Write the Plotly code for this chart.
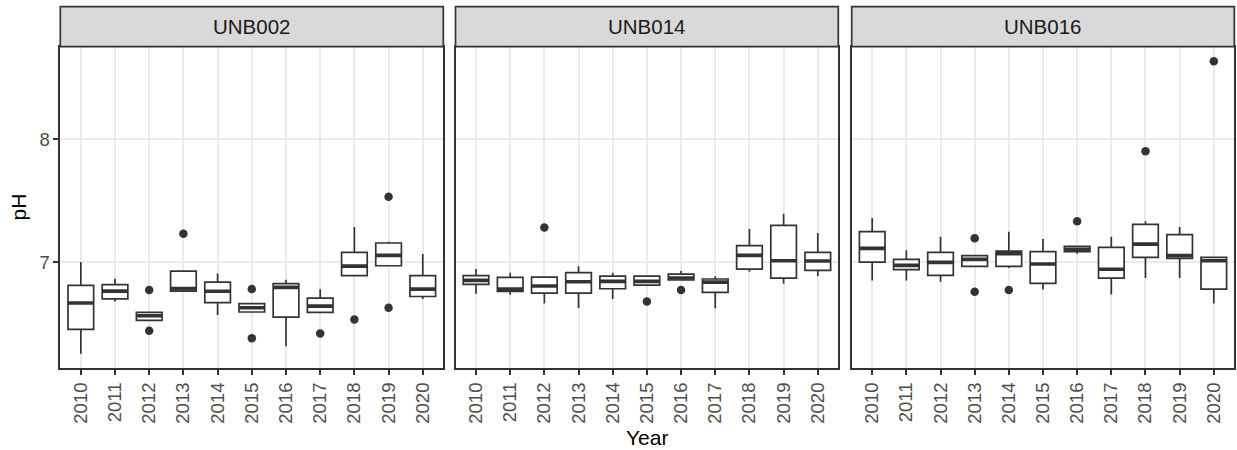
import plotly.graph_objects as go

W, H = 1237, 450
years = [str(y) for y in range(2010, 2021)]
sites = ["UNB002", "UNB014", "UNB016"]

# --- box statistics (pH) ---
unb002_lower = [6.255, 6.68, 6.526, 6.764, 6.569, 6.594, 6.315, 6.591, 6.889, 6.97, 6.70]
unb002_q1 = [6.453, 6.70, 6.526, 6.764, 6.67, 6.594, 6.553, 6.591, 6.889, 6.97, 6.72]
unb002_med = [6.667, 6.764, 6.564, 6.784, 6.762, 6.629, 6.794, 6.642, 6.967, 7.054, 6.78]
unb002_q3 = [6.81, 6.816, 6.591, 6.927, 6.837, 6.662, 6.824, 6.707, 7.079, 7.155, 6.889]
unb002_upper = [7.0, 6.865, 6.591, 6.927, 6.906, 6.662, 6.857, 6.778, 7.285, 7.166, 7.065]
unb002_out_year = ["2012", "2012", "2013", "2015", "2015", "2017", "2018", "2019", "2019"]
unb002_out_val = [6.772, 6.442, 7.231, 6.78, 6.38, 6.42, 6.532, 7.53, 6.629]

unb014_lower = [6.743, 6.735, 6.664, 6.626, 6.70, 6.813, 6.854, 6.624, 6.922, 6.824, 6.884]
unb014_q1 = [6.818, 6.762, 6.748, 6.748, 6.783, 6.813, 6.854, 6.754, 6.943, 6.87, 6.932]
unb014_med = [6.851, 6.78, 6.805, 6.84, 6.843, 6.843, 6.87, 6.837, 7.054, 7.011, 7.008]
unb014_q3 = [6.889, 6.876, 6.878, 6.914, 6.886, 6.886, 6.902, 6.862, 7.133, 7.298, 7.079]
unb014_upper = [6.943, 6.914, 6.884, 6.965, 6.914, 6.893, 6.927, 6.884, 7.268, 7.393, 7.236]
unb014_out_year = ["2012", "2015", "2016"]
unb014_out_val = [7.28, 6.68, 6.772]

unb016_lower = [6.851, 6.851, 6.84, 6.965, 6.951, 6.776, 7.068, 6.737, 6.87, 6.87, 6.662]
unb016_q1 = [7.0, 6.938, 6.892, 6.965, 6.965, 6.827, 7.085, 6.87, 7.038, 7.03, 6.78]
unb016_med = [7.111, 6.973, 6.997, 7.022, 7.068, 6.984, 7.103, 6.941, 7.146, 7.052, 7.011]
unb016_q3 = [7.247, 7.022, 7.079, 7.052, 7.089, 7.085, 7.128, 7.12, 7.307, 7.223, 7.038]
unb016_upper = [7.358, 7.095, 7.206, 7.052, 7.247, 7.187, 7.13, 7.206, 7.331, 7.285, 7.038]
unb016_out_year = ["2013", "2013", "2014", "2016", "2018", "2020"]
unb016_out_val = [7.193, 6.759, 6.772, 7.331, 7.9, 8.632]

y_ticks = [7, 8]

panels = [
    (unb002_lower, unb002_q1, unb002_med, unb002_q3, unb002_upper, unb002_out_year, unb002_out_val),
    (unb014_lower, unb014_q1, unb014_med, unb014_q3, unb014_upper, unb014_out_year, unb014_out_val),
    (unb016_lower, unb016_q1, unb016_med, unb016_q3, unb016_upper, unb016_out_year, unb016_out_val),
]

# --- layout geometry (pixels) ---
panel_x = [(60.3, 443.3), (455.5, 838.3), (851.7, 1234.3)]
plot_top, plot_bottom = 46.7, 368.3
strip_top = 6.7
DARK = "#333333"
BOX_W = 0.75
FONT = "Liberation Sans, Arial, sans-serif"

def px_x(p):
    return p / W

def px_y(p):
    return 1 - p / H

fig = go.Figure()
idx = list(range(len(years)))
all_vals = []
for k, (lo, q1, med, q3, up, oy, ov) in enumerate(panels):
    xa = "x" if k == 0 else f"x{k+1}"
    ya = "y" if k == 0 else f"y{k+1}"
    fig.add_trace(go.Box(
        x=idx, q1=q1, median=med, q3=q3, lowerfence=lo, upperfence=up,
        width=BOX_W, whiskerwidth=0, fillcolor="white",
        line=dict(color=DARK, width=1.7), boxpoints=False,
        xaxis=xa, yaxis=ya, showlegend=False, hoverinfo="skip"))
    # thicker median lines (ggplot fatten)
    mx, my = [], []
    for i, m in zip(idx, med):
        mx += [i - BOX_W / 2, i + BOX_W / 2, None]
        my += [m, m, None]
    fig.add_trace(go.Scatter(x=mx, y=my, mode="lines",
                             line=dict(color=DARK, width=3.6),
                             xaxis=xa, yaxis=ya, showlegend=False, hoverinfo="skip"))
    fig.add_trace(go.Scatter(x=[years.index(y) for y in oy], y=ov, mode="markers",
                             marker=dict(color=DARK, size=8.5),
                             xaxis=xa, yaxis=ya, showlegend=False, hoverinfo="skip"))
    all_vals += lo + up + ov

vmin, vmax = min(all_vals), max(all_vals)
pad = (vmax - vmin) * 0.05
y_range = [vmin - pad, vmax + pad]

tickfont = dict(family=FONT, size=18.5, color="#4D4D4D")
layout = dict(
    width=W, height=H,
    margin=dict(l=0, r=0, t=0, b=0),
    paper_bgcolor="white", plot_bgcolor="white",
    font=dict(family=FONT),
    showlegend=False,
)
shapes, annotations = [], []
for k in range(3):
    xs = "" if k == 0 else str(k + 1)
    x0, x1 = panel_x[k]
    layout[f"xaxis{xs}"] = dict(
        domain=[px_x(x0), px_x(x1)], range=[-0.6, len(years) - 0.4],
        tickvals=idx, ticktext=years, tickangle=-90, tickfont=tickfont,
        ticks="outside", ticklen=5, tickwidth=1.7, tickcolor=DARK,
        showgrid=True, gridcolor="#EBEBEB", gridwidth=1.7,
        showline=True, mirror=True, linecolor=DARK, linewidth=1.7,
        zeroline=False, anchor="y" + xs, fixedrange=True)
    layout[f"yaxis{xs}"] = dict(
        domain=[px_y(plot_bottom), px_y(plot_top)], range=y_range,
        tickvals=y_ticks, ticktext=[str(v) for v in y_ticks],
        showticklabels=(k == 0), tickfont=tickfont,
        ticks="outside" if k == 0 else "", ticklen=5, tickwidth=1.7, tickcolor=DARK,
        showgrid=True, gridcolor="#EBEBEB", gridwidth=1.7,
        showline=True, mirror=True, linecolor=DARK, linewidth=1.7,
        zeroline=False, anchor="x" + xs, fixedrange=True)
    shapes.append(dict(type="rect", xref="paper", yref="paper",
                       x0=px_x(x0), x1=px_x(x1), y0=px_y(plot_top), y1=px_y(strip_top),
                       fillcolor="#D9D9D9", line=dict(color=DARK, width=1.7), layer="above"))
    annotations.append(dict(text=sites[k], xref="paper", yref="paper",
                            x=px_x((x0 + x1) / 2), y=px_y((strip_top + plot_top) / 2),
                            showarrow=False, xanchor="center", yanchor="middle",
                            font=dict(size=20.5, color="#1A1A1A", family=FONT)))

annotations.append(dict(text="pH", xref="paper", yref="paper", x=px_x(18), y=px_y((plot_top + plot_bottom) / 2),
                        textangle=-90, showarrow=False, xanchor="center", yanchor="middle",
                        font=dict(size=21, color="black", family=FONT)))
annotations.append(dict(text="Year", xref="paper", yref="paper", x=px_x(647), y=px_y(437),
                        showarrow=False, xanchor="center", yanchor="middle",
                        font=dict(size=21, color="black", family=FONT)))
layout["shapes"] = shapes
layout["annotations"] = annotations
fig.update_layout(**layout)
fig.write_html("out.html", config={"displayModeBar": False},
               post_script="document.body.style.margin='0';document.body.style.overflow='hidden';")
